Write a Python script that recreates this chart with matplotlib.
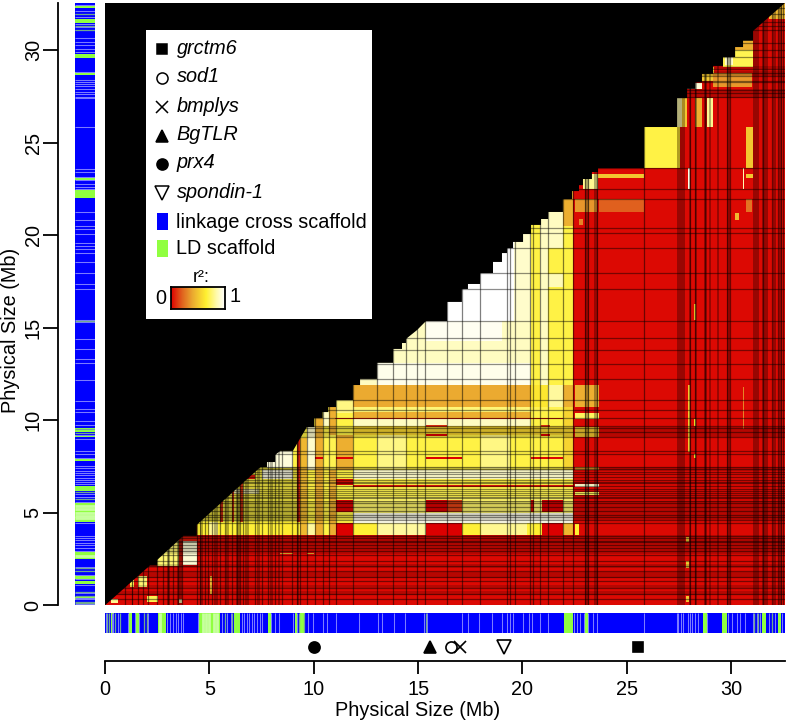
import numpy as np
import matplotlib
matplotlib.use("Agg")
import matplotlib.pyplot as plt
from matplotlib.colors import LinearSegmentedColormap
from matplotlib.patches import Rectangle

plt.rcParams['font.family'] = ['Liberation Sans', 'DejaVu Sans']

W, H = 789, 720
X_MAX, Y_MAX = 32.58, 32.54
BLUE, GREEN = '#0000FF', '#90FF40'
FONT = 14.3

# positions in Mb
x_ticks = [0, 5, 10, 15, 20, 25, 30]
y_ticks = [0, 5, 10, 15, 20, 25, 30]

gene_names = ['grctm6', 'sod1', 'bmplys', 'BgTLR', 'prx4', 'spondin-1']
gene_pos = [25.55, 16.6, 17.0, 15.57, 10.03, 19.13]
gene_marks = ['s', 'o', 'x', '^', 'o', 'v']
gene_filled = [True, False, False, True, True, False]
gene_size = [7, 8, 8, 9, 8, 10]

# scaffold strip: LD scaffolds, thin mixed ones and pale gaps between scaffolds
ld_spans = [(0.3, 0.45), (1.15, 1.3), (1.42, 1.65), (2.52, 2.92), (4.52, 5.51), (6.2, 6.47),
            (7.8, 7.95), (9.1, 9.2), (9.35, 9.6), (21.98, 22.44), (23.0, 23.16), (28.67, 28.83),
            (29.58, 29.8), (31.47, 31.67), (32.26, 32.39)]
ld_pale = [2.65, 4.7, 4.85, 5.0, 5.2, 5.35]
ld_thin = [0.1, 0.2, 0.5, 0.72, 1.85, 2.02, 5.75, 6.1, 9.3, 9.55, 15.36, 31.1, 31.3, 31.95]
gap_lines = [0.05, 0.32, 0.4, 0.64, 1.09, 1.44, 1.65, 1.88, 2.08, 2.96, 3.12, 3.27, 3.39, 3.51,
             3.64, 3.75, 4.44, 5.59, 5.83, 6.04, 6.55, 6.68, 6.79, 6.9, 7.03, 7.14, 7.27, 7.43,
             7.51, 7.96, 8.15, 8.34, 8.99, 9.19, 9.74, 9.98, 10.46, 10.62, 11.05, 12.17, 13.07,
             13.29, 13.87, 14.38, 15.3, 15.42, 17.09, 17.38, 17.94, 18.53, 19.01, 19.25, 19.41,
             19.56, 20.04, 20.32, 20.48, 20.84, 21.24, 22.49, 22.6, 22.76, 22.97, 23.16, 23.4,
             23.56, 25.84, 27.39, 27.47, 27.6, 27.71, 27.92, 28.03, 28.14, 28.27, 28.4, 28.83,
             29.87, 30.03, 30.27, 30.43, 30.67, 31.07, 31.23, 31.39, 31.79, 31.94, 32.1, 32.45]

# upper edge of the LD triangle
stair_x = [0, 2.15, 2.5, 2.5, 3.75, 4.4, 4.4, 7.45, 7.76, 7.76, 8.15, 8.15, 8.39, 9.0, 9.67, 10.03,
           10.03, 10.43, 10.43, 10.7, 10.7, 11.07, 11.07, 11.88, 11.88, 12.22, 12.22, 13.03, 13.03,
           13.8, 13.8, 14.23, 14.23, 14.42, 14.42, 14.95, 15.38, 16.39, 16.39, 17.1, 17.1, 17.39,
           17.39, 17.97, 17.97, 18.59, 18.59, 19.02, 19.02, 19.26, 19.26, 19.55, 19.55, 20.03,
           20.03, 20.41, 20.41, 20.89, 20.89, 21.23, 21.23, 21.94, 21.94, 22.38, 22.38, 22.71,
           22.71, 22.9, 22.9, 23.33, 23.33, 23.62, 23.62, 25.83, 25.83, 27.41, 27.41, 27.89,
           27.89, 28.27, 28.27, 28.6, 28.6, 29.13, 29.13, 29.61, 29.61, 30.19, 30.19, 30.57,
           30.57, 31.05, 31.05, 32.58]
stair_y = [0, 2.15, 2.15, 2.45, 3.75, 3.75, 4.35, 7.47, 7.47, 7.74, 7.74, 8.12, 8.34, 8.34, 9.63, 9.63,
           10.12, 10.12, 10.44, 10.44, 10.71, 10.71, 11.09, 11.09, 11.9, 11.9, 12.23, 12.23, 13.1,
           13.1, 13.85, 13.85, 14.17, 14.17, 14.39, 14.87, 15.36, 15.36, 16.39, 16.39, 17.09, 17.09,
           17.36, 17.36, 17.95, 17.95, 18.55, 18.55, 19.03, 19.03, 19.3, 19.3, 19.63, 19.63,
           20.06, 20.06, 20.55, 20.55, 20.87, 20.87, 21.25, 21.25, 21.95, 21.95, 22.38, 22.38,
           22.7, 22.7, 23.03, 23.03, 23.41, 23.41, 23.62, 23.62, 25.84, 25.84, 27.4, 27.4,
           27.9, 27.9, 28.27, 28.27, 28.71, 28.71, 29.14, 29.14, 29.62, 29.62, 30.16, 30.16,
           30.5, 30.5, 31.03, 32.54]

# r2 blocks (x0, x1, y0, y1, r2), later blocks paint over earlier ones
left_blocks = [
    (4.4, 22.4, 3.8, 33, 0.68), (4.4, 9.3, 3.8, 4.5, 0.66), (5.0, 5.4, 3.8, 4.5, 0.8),
    (8.4, 9.3, 3.8, 4.5, 0.63), (7.5, 9.0, 6.85, 7.3, 0.95), (7.76, 9.0, 7.4, 8.34, 0.93),
    (4.4, 7.4, 6.0, 6.3, 0.85), (6.0, 7.2, 6.85, 7.05, 0.05), (9.19, 9.35, 4.5, 9.0, 0.08),
    (5.51, 5.65, 4.5, 6.0, 0.1), (6.07, 6.2, 4.5, 7.0, 0.1), (6.47, 6.6, 4.5, 7.2, 0.12),
    (9.35, 9.66, 3.8, 9.04, 0.45), (9.66, 10.06, 7.3, 9.63, 0.9), (9.66, 10.06, 3.8, 4.45, 0.82),
    (10.06, 10.43, 3.8, 10.12, 0.42), (10.06, 10.43, 7.9, 8.0, 0.0), (10.73, 11.07, 3.8, 10.71, 0.42),
    (10.43, 11.07, 7.3, 9.18, 0.7), (10.43, 10.73, 9.66, 10.44, 0.88), (11.07, 11.88, 7.3, 9.18, 0.42),
    (11.07, 11.88, 3.8, 4.45, 0.0), (11.07, 11.88, 5.05, 5.7, 0.0), (11.07, 11.88, 6.5, 6.85, 0.02),
    (11.07, 11.88, 7.9, 8.0, 0.0), (11.07, 11.88, 9.66, 10.05, 0.68), (11.07, 11.88, 10.4, 11.09, 0.78),
    (2.5, 3.55, 2.15, 3.75, 0.75), (3.55, 3.75, 2.15, 3.75, 0.05), (3.75, 4.4, 2.2, 3.5, 0.92),
    (3.75, 4.4, 3.5, 3.75, 0.05), (1.2, 1.4, 1.0, 1.4, 0.7), (1.6, 2.0, 1.0, 1.6, 0.75),
    (2.0, 2.52, 0.2, 0.5, 0.7), (3.55, 3.7, 0.1, 0.35, 0.85), (8.4, 9.0, 2.75, 2.85, 0.45),
    (9.68, 10.03, 2.75, 2.85, 0.45), (5.05, 5.15, 0.6, 1.6, 0.45), (0.3, 0.6, 0.1, 0.35, 0.8),
]
middle_blocks = [
    (11.9, 20.4, 11.9, 15.38, 0.88), (13.03, 20.4, 11.9, 13.1, 0.96), (15.38, 19.0, 14.3, 15.38, 0.97),
    (15.38, 19.6, 15.38, 33, 1.0), (19.6, 20.4, 15.38, 33, 0.9), (20.84, 21.24, 11.9, 33, 0.88),
    (21.24, 21.96, 17.2, 17.9, 0.86), (21.24, 21.96, 19.3, 21.25, 0.88), (21.24, 21.96, 11.9, 12.0, 0.68),
    (21.96, 22.4, 20.5, 33, 0.42), (21.96, 22.4, 10.7, 11.9, 0.42), (21.24, 21.96, 10.7, 11.9, 0.82),
    (20.4, 21.24, 10.7, 11.9, 0.62), (11.9, 20.4, 10.7, 11.9, 0.4), (11.9, 20.4, 10.45, 10.7, 0.76),
    (11.9, 20.4, 10.08, 10.42, 0.42), (11.9, 20.4, 9.66, 10.05, 0.88), (11.9, 22.4, 9.18, 9.66, 0.55),
    (11.9, 20.4, 7.35, 9.18, 0.68), (13.05, 14.4, 7.35, 9.18, 0.78), (18.0, 19.4, 7.35, 9.18, 0.78),
    (11.9, 22.4, 6.85, 7.3, 0.9), (11.9, 22.4, 6.5, 6.85, 0.68), (11.9, 22.4, 5.85, 6.5, 0.7),
    (11.9, 22.4, 5.0, 5.85, 0.74), (11.9, 22.4, 4.45, 5.0, 0.96), (11.9, 20.4, 3.8, 4.45, 0.66),
    (13.05, 15.38, 3.8, 4.45, 0.82), (18.0, 20.2, 3.8, 4.45, 0.8), (15.38, 17.1, 3.8, 4.45, 0.0),
    (15.38, 16.4, 5.05, 5.7, 0.0), (16.4, 17.1, 5.05, 5.7, 0.14), (15.38, 17.1, 7.88, 8.0, 0.0),
    (20.95, 21.96, 3.8, 4.45, 0.0), (21.96, 22.4, 3.8, 4.45, 0.45), (20.5, 20.95, 3.8, 4.45, 0.65),
    (20.95, 21.96, 5.05, 5.7, 0.0), (20.4, 20.55, 5.05, 5.7, 0.02), (15.4, 16.4, 9.15, 9.28, 0.0),
    (15.4, 16.4, 9.62, 9.75, 0.1), (20.9, 21.3, 9.15, 9.28, 0.0), (20.9, 21.3, 9.62, 9.75, 0.1),
    (11.9, 22.4, 6.38, 6.5, 0.05), (20.4, 21.96, 7.9, 8.0, 0.02), (11.0, 22.4, 10.05, 10.12, 0.05),
    (20.4, 21.96, 10.45, 10.7, 0.7), (21.96, 22.4, 7.3, 10.7, 0.55),
]
right_blocks = [
    (22.52, 23.67, 10.69, 11.9, 0.42), (22.52, 23.67, 10.05, 10.4, 0.72), (22.52, 23.67, 9.1, 9.65, 0.5),
    (22.52, 23.67, 6.4, 6.53, 0.9), (22.52, 23.67, 5.95, 6.1, 0.72), (22.52, 23.67, 7.3, 7.45, 0.35),
    (22.52, 22.71, 3.8, 4.4, 0.65), (27.95, 28.02, 8.3, 11.9, 0.5), (28.2, 28.33, 9.68, 10.04, 0.62),
    (28.2, 28.33, 7.95, 8.17, 0.62), (30.55, 30.6, 9.5, 11.8, 0.3), (27.85, 28.0, 0.2, 0.5, 0.5),
    (27.85, 28.0, 2.0, 2.4, 0.5), (27.85, 28.0, 3.4, 3.7, 0.5), (25.83, 27.4, 23.6, 25.84, 0.68),
    (27.39, 27.63, 25.86, 27.4, 0.84), (27.63, 27.87, 25.86, 27.4, 0.5), (28.27, 28.59, 25.86, 27.4, 0.42),
    (28.83, 29.14, 25.86, 27.4, 0.8), (27.42, 27.55, 23.6, 25.86, 0.6), (30.71, 31.03, 23.64, 25.86, 0.5),
    (27.9, 28.6, 27.9, 28.2, 0.92), (28.6, 29.2, 28.3, 29.1, 0.5), (29.14, 30.98, 28.0, 28.77, 0.35),
    (29.6, 31.05, 29.1, 30.6, 0.7), (30.2, 31.05, 30.0, 30.6, 0.42), (29.7, 30.1, 29.2, 29.62, 0.9),
    (31.8, 32.6, 31.7, 33, 0.45), (22.9, 23.6, 22.5, 23.3, 0.8), (23.6, 25.83, 23.1, 23.3, 0.5),
    (30.7, 31.05, 23.1, 23.3, 0.5), (23.67, 25.83, 21.23, 21.95, 0.2), (22.5, 23.55, 21.23, 21.95, 0.35),
    (30.7, 31.0, 21.23, 21.95, 0.25), (22.7, 22.9, 20.54, 20.87, 0.3), (30.2, 30.4, 20.8, 21.2, 0.45),
    (28.2, 28.33, 15.4, 16.3, 0.5), (27.95, 28.02, 22.5, 23.6, 0.95), (30.55, 30.6, 22.5, 23.6, 0.85),
]

# low call-rate markers show up as dark rows and columns
dark_cols = [0.96, 1.28, 1.6, 1.84, 2.08, 2.48, 2.8, 3.03, 3.27, 3.51, 3.71, 4.39, 4.55, 4.79, 4.95,
             5.11, 5.51, 5.75, 6.07, 6.31, 6.47, 6.63, 7.19, 7.51, 7.83, 8.15, 8.47, 8.95, 9.19, 9.35,
             9.66, 10.06, 10.43, 10.73, 11.07, 11.9, 13.05, 13.81, 14.4, 14.93, 15.33, 16.37, 17.09,
             17.97, 19.24, 19.4, 19.64, 20.36, 20.52, 20.84, 21.24, 21.96, 22.44, 23.0, 23.16, 23.55,
             25.83, 28.03, 28.27, 28.75, 29.79, 29.95, 31.54, 31.94, 32.26, 32.4, 32.5]
dark_rows = [0.35, 0.62, 0.95, 1.3, 1.55, 1.85, 2.1, 2.4, 2.7, 2.95, 3.1, 3.27, 3.4, 3.5, 3.62, 3.72,
             4.43, 4.6, 4.79, 4.9, 5.1, 5.3, 5.5, 5.62, 5.78, 5.87, 5.95, 6.05, 6.2, 6.3, 6.47, 6.59,
             6.65, 6.77, 6.95, 7.1, 7.22, 7.35, 7.49, 8.15, 8.34, 9.07, 9.38, 9.56, 9.66, 10.1, 10.55,
             11.09, 12.2, 13.05, 13.8, 14.42, 15.38, 17.07, 17.93, 19.28, 20.1, 20.4, 21.95, 22.49,
             23.6, 27.45, 27.7, 27.85, 28.27, 28.35, 28.6, 28.75, 29.0, 29.6, 30.0, 30.4, 31.06,
             31.3, 31.54, 31.94, 32.26]
dark_col_bands = [(1.28, 1.36), (2.95, 3.1), (3.45, 3.7), (4.55, 4.7), (5.2, 5.4), (5.8, 5.95), (6.3, 6.45),
                  (6.7, 6.9), (7.3, 7.45), (7.9, 8.05), (8.3, 8.4), (9.19, 9.3), (23.0, 23.2), (23.45, 23.6),
                  (27.39, 27.79), (28.0, 28.1), (28.25, 28.35), (28.7, 28.85), (28.95, 29.05), (29.3, 29.4),
                  (29.8, 29.95), (31.06, 31.35), (31.5, 31.75), (32.0, 32.15), (32.3, 32.45)]
dark_row_bands = [(0.55, 0.75), (0.95, 1.1), (1.45, 1.8), (2.0, 2.25), (2.75, 3.8), (4.6, 5.65), (7.25, 7.45),
                  (9.1, 9.65), (27.4, 27.9), (28.6, 28.85), (29.0, 29.15)]
olive_x = (4.4, 9.3)
olive_y = (4.5, 7.45)

heat_cmap = LinearSegmentedColormap.from_list('heat', [(0.0, '#DC0000'), (0.2, '#E0601E'), (0.4, '#EBAA30'),
                                                       (0.65, '#FFF030'), (0.85, '#FFFBB0'), (1.0, '#FFFFFF')])


def px_axes(fig, x0, x1, y_top, y_bottom):
    """Axes placed by pixel box of the reference."""
    return fig.add_axes([x0 / W, 1 - y_bottom / H, (x1 - x0) / W, (y_bottom - y_top) / H])


fig = plt.figure(figsize=(W / 100, H / 100), dpi=100)

# main triangle
ax = px_axes(fig, 105, 785, 3, 605.3)
blocks = left_blocks + middle_blocks + right_blocks
x_edges = np.unique(np.clip([0, X_MAX] + [b[0] for b in blocks] + [b[1] for b in blocks], 0, X_MAX))
y_edges = np.unique(np.clip([0, Y_MAX] + [b[2] for b in blocks] + [b[3] for b in blocks], 0, Y_MAX))
x_mid = (x_edges[:-1] + x_edges[1:]) / 2
y_mid = (y_edges[:-1] + y_edges[1:]) / 2
r2 = np.full((len(y_mid), len(x_mid)), 0.02)
for x0, x1, y0, y1, val in blocks:
    r2[np.ix_((y_mid >= y0) & (y_mid < y1), (x_mid >= x0) & (x_mid < x1))] = val
ax.pcolormesh(x_edges, y_edges, r2, cmap=heat_cmap, vmin=0, vmax=1, shading='flat', antialiased=False)

ax.vlines(dark_cols, 0, Y_MAX, color='black', lw=0.9, alpha=0.5, zorder=3)
ax.hlines(dark_rows, 0, X_MAX, color='black', lw=0.9, alpha=0.45, zorder=3)
for lo, hi in dark_col_bands:
    ax.axvspan(lo, hi, color='black', alpha=0.3, lw=0, zorder=3)
for lo, hi in dark_row_bands:
    ax.axhspan(lo, hi, color='black', alpha=0.17, lw=0, zorder=3)
ax.add_patch(Rectangle((olive_x[0], olive_y[0]), olive_x[1] - olive_x[0], olive_y[1] - olive_y[0],
                       color='black', alpha=0.15, lw=0, zorder=3))

ax.fill(stair_x + [X_MAX, 0], stair_y + [Y_MAX, Y_MAX], color='black', lw=0, zorder=5)
ax.set_xlim(0, X_MAX)
ax.set_ylim(0, Y_MAX)
ax.axis('off')

# scaffold strips
ax_bottom = px_axes(fig, 105, 785, 613, 633)
ax_bottom.set_facecolor(BLUE)
ax_bottom.vlines(gap_lines, 0, 1, color='#7C7CFF', lw=0.75)
ax_bottom.vlines(ld_thin, 0, 1, color='#70A890', lw=0.9)
for lo, hi in ld_spans:
    ax_bottom.axvspan(lo, hi, color=GREEN, lw=0)
ax_bottom.vlines(ld_pale, 0, 1, color='#C8FFA0', lw=2)
ax_bottom.set_xlim(0, X_MAX)
ax_bottom.set_ylim(0, 1)
ax_bottom.set_xticks([])
ax_bottom.set_yticks([])
for s in ax_bottom.spines.values():
    s.set_visible(False)

ax_left = px_axes(fig, 74.5, 95, 3, 605.3)
ax_left.set_facecolor(BLUE)
ax_left.hlines(gap_lines, 0, 1, color='#7C7CFF', lw=0.75)
ax_left.hlines(ld_thin, 0, 1, color='#70A890', lw=0.9)
for lo, hi in ld_spans:
    ax_left.axhspan(lo, hi, color=GREEN, lw=0)
ax_left.hlines(ld_pale, 0, 1, color='#C8FFA0', lw=2)
ax_left.set_ylim(0, Y_MAX)
ax_left.set_xlim(0, 1)
ax_left.set_xticks([])
ax_left.set_yticks([])
for s in ax_left.spines.values():
    s.set_visible(False)

# bottom axis with gene markers
ax_x = px_axes(fig, 105, 785, 636, 661)
ax_x.patch.set_alpha(0)
for name in ['top', 'left', 'right']:
    ax_x.spines[name].set_visible(False)
ax_x.spines['bottom'].set_linewidth(1.3)
ax_x.set_xlim(0, X_MAX)
ax_x.set_ylim(0, 1)
ax_x.set_yticks([])
ax_x.set_xticks(x_ticks)
ax_x.tick_params(axis='x', length=9.5, width=1.3, pad=4, labelsize=FONT)
ax_x.set_xlabel('Physical Size (Mb)', fontsize=FONT, x=(418 - 105) / 680, labelpad=1.5)
for pos, mark, filled, size in zip(gene_pos, gene_marks, gene_filled, gene_size):
    ax_x.plot(pos, 0.55, mark, ms=size, mfc='black' if filled else 'none', mec='black', mew=1.2, clip_on=False)

# left axis
ax_y = px_axes(fig, 58, 70, 3, 605.3)
ax_y.patch.set_alpha(0)
for name in ['top', 'bottom', 'right']:
    ax_y.spines[name].set_visible(False)
ax_y.spines['left'].set_linewidth(1.3)
ax_y.set_ylim(0, Y_MAX)
ax_y.set_xticks([])
ax_y.set_yticks(y_ticks)
ax_y.tick_params(axis='y', length=10.5, width=1.3, pad=0.5, labelsize=FONT)
for lab in ax_y.get_yticklabels():
    lab.set_rotation(90)
    lab.set_va('center')
fig.text(11 / W, 1 - 330 / H, 'Physical Size (Mb)', rotation=90, fontsize=FONT, ha='center', va='center')

# legend box, laid out in reference pixels
leg = px_axes(fig, 146, 372, 30, 319)
leg.set_xlim(146, 372)
leg.set_ylim(319, 30)
leg.set_facecolor('white')
leg.set_xticks([])
leg.set_yticks([])
for s in leg.spines.values():
    s.set_visible(False)
leg_y = [48, 77, 106, 135, 163, 192]
for name, mark, filled, size, yy in zip(gene_names, gene_marks, gene_filled, gene_size, leg_y):
    leg.plot(162, yy + 1, mark, ms=size, mfc='black' if filled else 'none', mec='black', mew=1.1)
    leg.text(176.5, yy, name, style='italic', fontsize=FONT, va='center')
leg.add_patch(Rectangle((157, 213), 10.5, 17, color=BLUE, lw=0))
leg.add_patch(Rectangle((157, 240), 10.5, 17, color=GREEN, lw=0))
leg.text(176.5, 222, 'linkage cross scaffold', fontsize=FONT, va='center')
leg.text(176.5, 249, 'LD scaffold', fontsize=FONT, va='center')
leg.text(201, 278, 'r²:', fontsize=13, ha='center', va='center')
leg.text(160.5, 299, '0', fontsize=FONT, ha='center', va='center')
leg.text(235, 297, '1', fontsize=FONT, ha='center', va='center')

ax_cb = px_axes(fig, 171, 225, 287, 309)
ax_cb.imshow(np.linspace(0, 1, 256).reshape(1, -1), cmap=heat_cmap, aspect='auto', vmin=0, vmax=1)
ax_cb.set_xticks([])
ax_cb.set_yticks([])
for s in ax_cb.spines.values():
    s.set_linewidth(1.3)

fig.savefig('out.png', dpi=100, facecolor='white')
